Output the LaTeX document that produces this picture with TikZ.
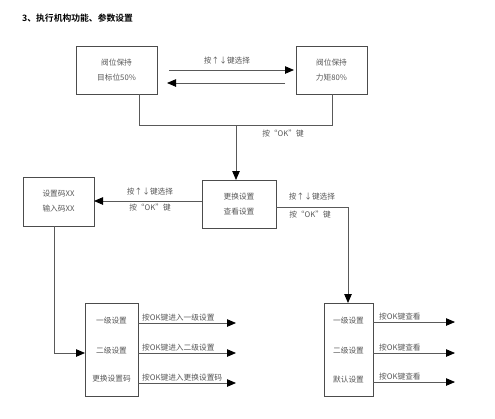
\documentclass[tikz,border=0pt]{standalone}
\usepackage{fontspec}
\newfontfamily\cjk{Noto Sans CJK SC}
\newfontfamily\cjkb{Noto Sans CJK SC Bold}
\usetikzlibrary{arrows.meta}
\begin{document}
\begin{tikzpicture}[x=1pt,y=-1pt,
  box/.style={draw=black!70,line width=0.8pt,inner sep=0pt},
  txt/.style={font=\cjk\fontsize{7.7}{9}\selectfont,text=black!65,inner sep=0pt},
  conn/.style={draw=black!65,line width=0.8pt},
  arr/.style={conn,-{Triangle[length=9pt,width=7.5pt,color=black]}},
  ]
\useasboundingbox (0,0) rectangle (495,418);
\fill[white] (0,0) rectangle (495,418);
\node[anchor=west,inner sep=0pt,font=\cjkb\fontsize{8.8}{10}\selectfont] (title) at (22,18) {3、执行机构功能、参数设置};

% top boxes
\draw[box] (76,46) rectangle (157,94);
\node (b1) at (116.5,70) [minimum width=81pt,minimum height=48pt] {};
\node[txt] (b1a) at (116.5,63) {阀位保持};
\node[txt] (b1b) at (116.5,78) {目标位50\%};
\draw[box] (296,46) rectangle (367,94);
\node (b2) at (331.5,70) [minimum width=71pt,minimum height=48pt] {};
\node[txt] (b2a) at (331.5,63) {阀位保持};
\node[txt] (b2b) at (331.5,78) {力矩80\%};

\coordinate (t1s) at (169,70); \coordinate (t1e) at (294,70);
\coordinate (t2s) at (285,83); \coordinate (t2e) at (167,83);
\draw[arr] (t1s) -- (t1e);
\draw[arr] (t2s) -- (t2e);
\node[txt] (l1) at (227,61) {按↑↓键选择};

% merge lines
\coordinate (m1) at (139,94); \coordinate (m2) at (139,125);
\coordinate (m3) at (332,125); \coordinate (m4) at (332,94);
\draw[conn] (m1) -- (m2) -- (m3) -- (m4);
\coordinate (mc) at (236,125);
\node[txt] (l2) at (283,134) {按“OK”键};

% middle box
\draw[box] (202,180) rectangle (276,228);
\node (b3) at (239,204) [minimum width=74pt,minimum height=48pt] {};
\node[txt] (b3a) at (239,197) {更换设置};
\node[txt] (b3b) at (239,212) {查看设置};
\coordinate (b3t) at (236,180);
\draw[arr] (mc) -- (b3t);

% left box
\draw[box] (23,177) rectangle (94,226);
\node[txt] (b4a) at (58.5,194) {设置码XX};
\node[txt] (b4b) at (58.5,209) {输入码XX};
\coordinate (b3l) at (202,201); \coordinate (b4r) at (94,201);
\draw[arr] (b3l) -- (b4r);
\node[txt] (l3) at (150,192) {按↑↓键选择};
\node[txt] (l4) at (150,208) {按“OK”键};

% right route
\coordinate (b3r) at (276,207); \coordinate (rc) at (348,207); \coordinate (rt) at (348,303);
\draw[arr] (b3r) -- (rc) -- (rt);
\node[txt] (l5) at (312,197) {按↑↓键选择};
\node[txt] (l6) at (310,215) {按“OK”键};

% left route
\coordinate (b4bot) at (54,226); \coordinate (lc) at (54,353); \coordinate (lt) at (85,353);
\draw[arr] (b4bot) -- (lc) -- (lt);

% bottom left box
\draw[box] (85,303) rectangle (138,396);
\node[txt] (c1) at (111.5,321) {一级设置};
\node[txt] (c2) at (111.5,351) {二级设置};
\node[txt] (c3) at (111.5,379) {更换设置码};
\foreach \y/\t [count=\i] in {323/按OK键进入一级设置,353/按OK键进入二级设置,383/按OK键进入更换设置码}{
  \coordinate (cs\i) at (138,\y); \coordinate (ce\i) at (236,\y);
  \draw[arr] (cs\i) -- (ce\i);
  \node[txt,anchor=base west] (cl\i) at (142,\y-3) {\t};
}

% bottom right box
\draw[box] (324,303) rectangle (373,396);
\node[txt] (d1) at (348.5,321) {一级设置};
\node[txt] (d2) at (348.5,351) {二级设置};
\node[txt] (d3) at (348.5,380) {默认设置};
\foreach \y [count=\i] in {322,353,382}{
  \coordinate (ds\i) at (373,\y); \coordinate (de\i) at (455,\y);
  \draw[arr] (ds\i) -- (de\i);
  \node[txt,anchor=base west] (dl\i) at (379,\y-3) {按OK键查看};
}
\end{tikzpicture}
\end{document}
